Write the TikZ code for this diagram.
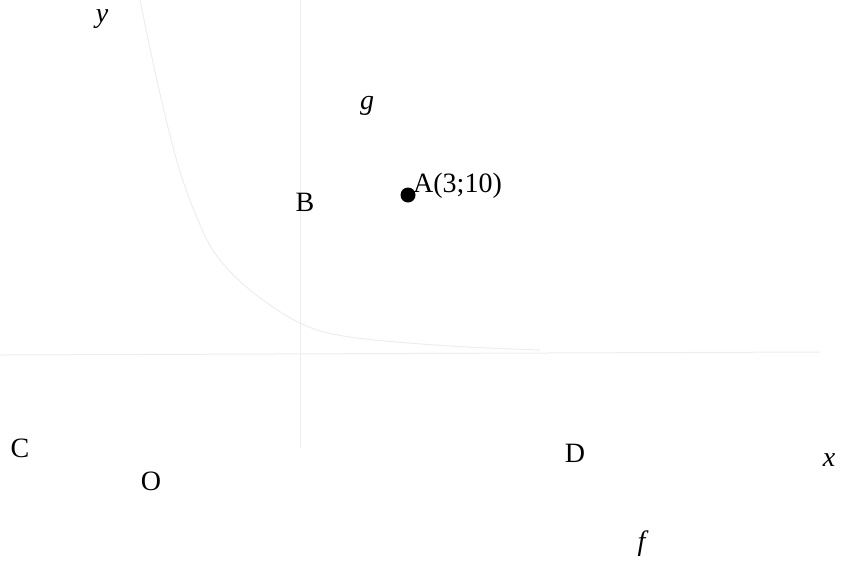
\documentclass[tikz,border=0pt]{standalone}
\usepackage{fontspec}
\setmainfont{Liberation Serif}
\usepackage{tikz}
\usetikzlibrary{positioning, calc}

\begin{document}
\begin{tikzpicture}[x=1pt, y=-1pt,
  lbl/.style={inner sep=0pt, font=\fontsize{28}{33}\selectfont},
  faint/.style={black!7, line width=1pt}]
\useasboundingbox (0,0) rectangle (841,560);
% faint traces of the axes and the curve
\draw[faint] (300,0) -- (300,448); % Vertical axis
\draw[faint] (0,355) -- (820,352); % Horizontal axis
\draw[faint] plot[smooth, tension=0.6] coordinates {(140,0) (158,85) (178,165) (198,220) (217,256) (250,290) (300,323) (350,337) (450,346) (540,350)};

% Axis names
\node[lbl] (ylab) at (102,19) {\textit{y}};
\node[lbl] (xlab) at (829,460) {\textit{x}};
\node[lbl] (O) at (151,481) {O};

% Graph names
\node[lbl] (glab) at (367,106) {\textit{g}};
\node[lbl] (flab) at (643,544) {\textit{f}};

% Points
\fill (408,195) circle (7.5); % A
\node[lbl, anchor=west] (A) at (413,186) {A(3;10)};
\node[lbl] (B) at (305,202) {B};
\node[lbl] (C) at (20,448) {C};
\node[lbl] (D) at (575,453) {D};
\end{tikzpicture}
\end{document}
